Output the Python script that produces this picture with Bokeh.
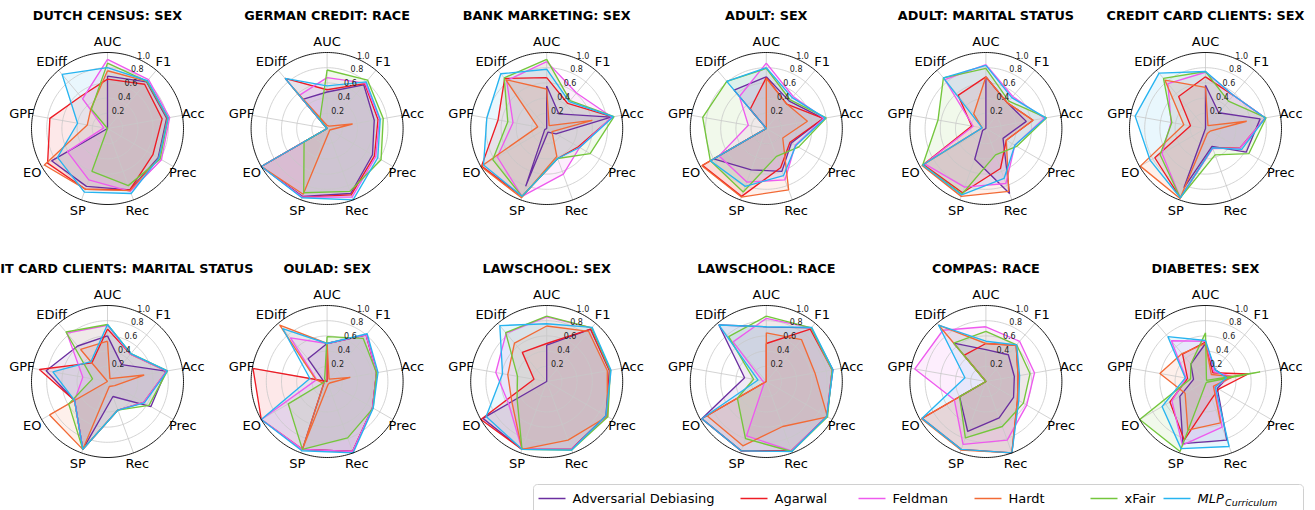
import numpy as np
from bokeh.plotting import figure
from bokeh.models import Range1d
from bokeh.embed import file_html
from bokeh.resources import INLINE
from bokeh.core.properties import value

# ---------------------------------------------------------------- data
metrics = ["AUC", "F1", "Acc", "Prec", "Rec", "SP", "EO", "GPF", "EDiff"]
methods = ["Adversarial Debiasing", "Agarwal", "Feldman", "Hardt", "xFair", "MLP_Curriculum"]
colors = ["#6b2fa0", "#ee1c25", "#ee5aee", "#f26a36", "#74c63c", "#27b4f0"]
r_ticks = [0.2, 0.4, 0.6, 0.8, 1.0]

titles = [
    "DUTCH CENSUS: SEX", "GERMAN CREDIT: RACE", "BANK MARKETING: SEX",
    "ADULT: SEX", "ADULT: MARITAL STATUS", "CREDIT CARD CLIENTS: SEX",
    "CREDIT CARD CLIENTS: MARITAL STATUS", "OULAD: SEX", "LAWSCHOOL: SEX",
    "LAWSCHOOL: RACE", "COMPAS: RACE", "DIABETES: SEX",
]

# rows follow `methods`, columns follow `metrics`
dutch_census_sex = [
    [0.69, 0.80, 0.79, 0.77, 0.86, 0.81, 0.85, 0.00, 0.00],
    [0.65, 0.76, 0.73, 0.69, 0.86, 0.85, 0.91, 0.77, 0.55],
    [0.91, 0.84, 0.83, 0.82, 0.88, 0.72, 0.61, 0.05, 0.51],
    [0.76, 0.81, 0.80, 0.78, 0.87, 0.85, 0.96, 0.27, 0.34],
    [0.86, 0.81, 0.81, 0.80, 0.80, 0.60, 0.00, 0.00, 0.33],
    [0.80, 0.82, 0.81, 0.78, 0.91, 0.89, 0.76, 0.40, 0.93],
]
german_credit_race = [
    [0.48, 0.75, 0.63, 0.69, 0.91, 0.95, 1.00, 0.00, 0.50],
    [0.51, 0.77, 0.68, 0.72, 0.93, 0.96, 1.00, 0.00, 0.86],
    [0.67, 0.78, 0.70, 0.74, 0.96, 0.96, 1.00, 0.00, 0.57],
    [0.04, 0.04, 0.34, 0.04, 0.06, 0.92, 1.00, 0.00, 0.70],
    [0.77, 0.83, 0.75, 0.82, 0.88, 0.90, 0.35, 0.00, 0.15],
    [0.56, 0.80, 0.71, 0.77, 1.00, 0.97, 1.00, 0.00, 0.86],
]
bank_marketing_sex = [
    [0.56, 0.25, 0.86, 0.14, 0.05, 0.81, 0.03, 0.00, 0.00],
    [0.67, 0.43, 0.88, 0.48, 0.42, 0.95, 0.99, 0.65, 0.86],
    [0.88, 0.61, 0.87, 0.50, 0.64, 0.95, 0.75, 0.45, 0.82],
    [0.52, 0.05, 0.61, 0.08, 0.39, 0.97, 1.00, 0.12, 0.84],
    [0.91, 0.48, 0.90, 0.66, 0.42, 0.95, 0.82, 0.52, 0.87],
    [0.78, 0.46, 0.89, 0.50, 0.42, 0.95, 0.96, 0.80, 0.94],
]
adult_sex = [
    [0.68, 0.47, 0.76, 0.38, 0.60, 0.58, 0.80, 0.00, 0.66],
    [0.67, 0.42, 0.76, 0.36, 0.55, 0.95, 0.97, 0.00, 0.33],
    [0.86, 0.55, 0.77, 0.44, 0.72, 0.75, 0.72, 0.24, 0.55],
    [0.66, 0.42, 0.55, 0.25, 0.86, 0.96, 0.98, 0.00, 0.00],
    [0.79, 0.49, 0.80, 0.49, 0.39, 0.89, 0.85, 0.85, 0.81],
    [0.80, 0.53, 0.79, 0.45, 0.66, 0.81, 0.85, 0.00, 0.81],
]
adult_marital = [
    [0.68, 0.44, 0.54, 0.26, 0.91, 0.43, 0.05, 0.00, 0.00],
    [0.68, 0.44, 0.63, 0.31, 0.56, 0.90, 0.95, 0.19, 0.57],
    [0.84, 0.55, 0.78, 0.44, 0.77, 0.82, 0.93, 0.17, 0.84],
    [0.68, 0.44, 0.63, 0.31, 0.88, 0.95, 0.97, 0.05, 0.25],
    [0.79, 0.47, 0.81, 0.47, 0.37, 0.92, 0.96, 0.64, 0.87],
    [0.83, 0.53, 0.80, 0.44, 0.70, 0.93, 0.96, 0.05, 0.87],
]
credit_card_sex = [
    [0.57, 0.27, 0.73, 0.62, 0.25, 0.83, 0.00, 0.00, 0.00],
    [0.68, 0.57, 0.80, 0.52, 0.27, 0.97, 0.77, 0.20, 0.55],
    [0.74, 0.57, 0.80, 0.52, 0.28, 0.97, 0.66, 0.46, 0.77],
    [0.54, 0.05, 0.55, 0.07, 0.07, 0.98, 0.99, 0.29, 0.83],
    [0.75, 0.47, 0.81, 0.66, 0.37, 0.97, 0.69, 0.45, 0.86],
    [0.75, 0.57, 0.80, 0.55, 0.27, 0.97, 0.84, 0.94, 0.95],
]
credit_card_marital = [
    [0.60, 0.29, 0.78, 0.66, 0.21, 0.95, 0.50, 0.82, 0.61],
    [0.69, 0.47, 0.79, 0.55, 0.40, 0.95, 0.50, 0.91, 0.32],
    [0.74, 0.47, 0.79, 0.55, 0.40, 0.95, 0.50, 0.33, 0.83],
    [0.53, 0.05, 0.49, 0.11, 0.07, 0.95, 0.88, 0.00, 0.55],
    [0.75, 0.48, 0.80, 0.63, 0.40, 0.95, 0.59, 0.20, 0.85],
    [0.75, 0.48, 0.80, 0.56, 0.40, 0.95, 0.50, 0.73, 0.34],
]
oulad_sex = [
    [0.50, 0.80, 0.66, 0.69, 0.98, 0.95, 0.05, 0.05, 0.39],
    [0.50, 0.80, 0.66, 0.69, 0.98, 0.95, 1.00, 0.99, 0.00],
    [0.50, 0.80, 0.66, 0.69, 0.98, 0.95, 1.00, 0.14, 0.75],
    [0.50, 0.04, 0.31, 0.04, 0.04, 0.95, 0.05, 0.15, 0.97],
    [0.59, 0.74, 0.66, 0.70, 0.79, 0.95, 0.59, 0.02, 0.05],
    [0.50, 0.82, 0.68, 0.70, 1.00, 0.97, 1.00, 0.23, 0.91],
]
lawschool_sex = [
    [0.48, 0.90, 0.84, 0.90, 0.95, 0.95, 0.97, 0.00, 0.00],
    [0.50, 0.90, 0.84, 0.91, 0.95, 0.95, 1.00, 0.17, 0.50],
    [0.85, 0.92, 0.85, 0.92, 0.95, 0.95, 0.58, 0.68, 0.83],
    [0.73, 0.86, 0.81, 0.92, 0.82, 0.95, 0.53, 0.52, 0.66],
    [0.86, 0.92, 0.85, 0.93, 0.96, 0.95, 0.45, 0.39, 0.84],
    [0.76, 0.93, 0.86, 0.90, 0.96, 0.95, 0.92, 0.59, 0.96],
]
lawschool_race = [
    [0.72, 0.92, 0.89, 0.92, 0.97, 0.97, 0.98, 0.29, 0.97],
    [0.50, 0.90, 0.88, 0.92, 0.97, 0.97, 0.98, 0.00, 0.00],
    [0.83, 0.92, 0.88, 0.92, 0.97, 0.76, 0.03, 0.05, 0.68],
    [0.64, 0.72, 0.65, 0.93, 0.63, 0.90, 0.90, 0.00, 0.00],
    [0.86, 0.92, 0.88, 0.93, 0.98, 0.80, 0.44, 0.17, 0.77],
    [0.72, 0.93, 0.89, 0.92, 0.98, 0.97, 0.98, 0.11, 0.97],
]
compas_race = [
    [0.42, 0.46, 0.38, 0.42, 0.51, 0.70, 0.40, 0.00, 0.66],
    [0.50, 0.62, 0.43, 0.48, 1.00, 0.95, 0.97, 0.00, 0.45],
    [0.72, 0.69, 0.65, 0.62, 0.82, 0.88, 0.48, 0.95, 0.88],
    [0.50, 0.62, 0.43, 0.48, 1.00, 0.96, 0.98, 0.00, 0.97],
    [0.66, 0.63, 0.59, 0.57, 0.63, 0.79, 0.40, 0.00, 0.66],
    [0.53, 0.63, 0.45, 0.50, 1.00, 0.95, 0.97, 0.28, 0.97],
]
diabetes_sex = [
    [0.50, 0.20, 0.30, 0.18, 0.82, 0.87, 0.39, 0.16, 0.30],
    [0.52, 0.15, 0.57, 0.20, 0.24, 0.82, 0.54, 0.24, 0.47],
    [0.53, 0.17, 0.36, 0.14, 0.64, 0.89, 0.51, 0.26, 0.70],
    [0.50, 0.12, 0.37, 0.12, 0.58, 0.68, 0.31, 0.61, 0.48],
    [0.64, 0.02, 0.73, 0.02, 0.02, 0.98, 1.00, 0.20, 0.30],
    [0.54, 0.20, 0.28, 0.15, 0.91, 0.94, 0.66, 0.27, 0.77],
]

panels = [
    dutch_census_sex, german_credit_race, bank_marketing_sex,
    adult_sex, adult_marital, credit_card_sex,
    credit_card_marital, oulad_sex, lawschool_sex,
    lawschool_race, compas_race, diabetes_sex,
]

# ---------------------------------------------------------------- layout
W, H = 1315, 510
R = 76.0                      # pixel radius of the r = 1 circle
COL_X0, COL_DX = 107.0, 219.6
ROW_Y = [128.0, 381.0]
FONT = "DejaVu Sans"

theta = np.deg2rad(90.0 - 40.0 * np.arange(len(metrics)))   # AUC on top, clockwise


def centre(k):
    return COL_X0 + COL_DX * (k % 6), ROW_Y[k // 6]


def to_xy(k, r, ang):
    cx, cy = centre(k)
    r = np.asarray(r, dtype=float)
    return cx + R * r * np.cos(ang), cy - R * r * np.sin(ang)


p = figure(width=W, height=H, x_range=Range1d(0, W), y_range=Range1d(H, 0),
           output_backend="svg", toolbar_location=None, min_border=0,
           x_axis_location=None, y_axis_location=None)
p.grid.visible = False
p.outline_line_color = None
p.background_fill_color = "white"
p.border_fill_color = "white"

# filled areas
for m, col in enumerate(colors):
    xs, ys = [], []
    for k, panel in enumerate(panels):
        x, y = to_xy(k, panel[m], theta)
        xs.append(list(x))
        ys.append(list(y))
    p.patches(xs, ys, fill_color=col, fill_alpha=0.1, line_color=None)

# polar grid: inner circles and spokes
circ = np.linspace(0, 2 * np.pi, 240)
gx, gy = [], []
for k in range(len(panels)):
    for rt in r_ticks[:-1]:
        x, y = to_xy(k, np.full_like(circ, rt), circ)
        gx.append(list(x))
        gy.append(list(y))
    for a in theta:
        x, y = to_xy(k, [0.0, 1.0], np.array([a, a]))
        gx.append(list(x))
        gy.append(list(y))
p.multi_line(gx, gy, line_color="#c8c8c8", line_width=0.8)

# series outlines
for m, col in enumerate(colors):
    xs, ys = [], []
    for k, panel in enumerate(panels):
        vals = list(panel[m]) + [panel[m][0]]
        angs = np.append(theta, theta[0])
        x, y = to_xy(k, vals, angs)
        xs.append(list(x))
        ys.append(list(y))
    p.multi_line(xs, ys, line_color=col, line_width=1.35)

# outer frame circle
ox, oy = [], []
for k in range(len(panels)):
    x, y = to_xy(k, np.ones_like(circ), circ)
    ox.append(list(x))
    oy.append(list(y))
p.multi_line(ox, oy, line_color="black", line_width=0.9)

# metric labels around each radar
lx, ly, lt = [], [], []
for k in range(len(panels)):
    x, y = to_xy(k, np.full(len(metrics), 87.0 / R), theta)
    lx += list(x)
    ly += list(y)
    lt += metrics
p.text(lx, ly, text=lt, text_align="center", text_baseline="middle",
       text_font=value(FONT), text_font_size=value("13px"), text_color="black")

# radial tick labels
tx, ty, tt = [], [], []
a65 = np.deg2rad(65.0)
for k in range(len(panels)):
    cx, cy = centre(k)
    for rt in r_ticks:
        d = R * rt + 5.0
        tx.append(cx + d * np.cos(a65) + 2.0)
        ty.append(cy - d * np.sin(a65))
        tt.append(f"{rt:.1f}")
p.text(tx, ty, text=tt, text_align="center", text_baseline="middle",
       text_font=value(FONT), text_font_size=value("8px"), text_color="#222222")

# panel titles
hx = [centre(k)[0] for k in range(len(panels))]
hy = [centre(k)[1] - 113.0 for k in range(len(panels))]
p.text(hx, hy, text=titles, text_align="center", text_baseline="middle",
       text_font=value(FONT), text_font_size=value("12.8px"),
       text_font_style="bold", text_color="black")

# ---------------------------------------------------------------- legend
LX0, LX1, LY0, LY1, RAD = 533.0, 1303.0, 484.0, 514.0, 4.0
corner = np.linspace(0, np.pi / 2, 8)
bx = np.concatenate([
    LX1 - RAD + RAD * np.cos(corner),
    LX0 + RAD - RAD * np.sin(corner),
    LX0 + RAD - RAD * np.cos(corner),
    LX1 - RAD + RAD * np.sin(corner),
])
by = np.concatenate([
    LY0 + RAD - RAD * np.sin(corner),
    LY0 + RAD - RAD * np.cos(corner),
    LY1 - RAD + RAD * np.sin(corner),
    LY1 - RAD + RAD * np.cos(corner),
])
p.patch(list(bx), list(by), fill_color="white", fill_alpha=0.85,
        line_color="#d0d0d0", line_width=1.0)

handle_x = [538.0, 740.0, 858.0, 974.0, 1090.0, 1163.0]
LEG_Y = 498.0
HANDLE = 27.0
p.multi_line([[hx0, hx0 + HANDLE] for hx0 in handle_x], [[LEG_Y, LEG_Y]] * len(handle_x),
             line_color=colors, line_width=1.5)
p.text([hx0 + HANDLE + 7.0 for hx0 in handle_x[:-1]], [LEG_Y] * (len(handle_x) - 1),
       text=methods[:-1], text_align="left", text_baseline="middle",
       text_font=value(FONT), text_font_size=value("13px"), text_color="black")
# MLP with an italic subscript
base_x = handle_x[-1] + HANDLE + 7.0
main, sub = methods[-1].split("_")
p.text([base_x], [LEG_Y], text=[main], text_align="left", text_baseline="middle",
       text_font=value(FONT), text_font_size=value("13px"),
       text_font_style="italic", text_color="black")
p.text([base_x + 27.5], [LEG_Y + 4.0], text=[sub], text_align="left", text_baseline="middle",
       text_font=value(FONT), text_font_size=value("9.5px"),
       text_font_style="italic", text_color="black")

open("out.html", "w").write(file_html(p, INLINE))
